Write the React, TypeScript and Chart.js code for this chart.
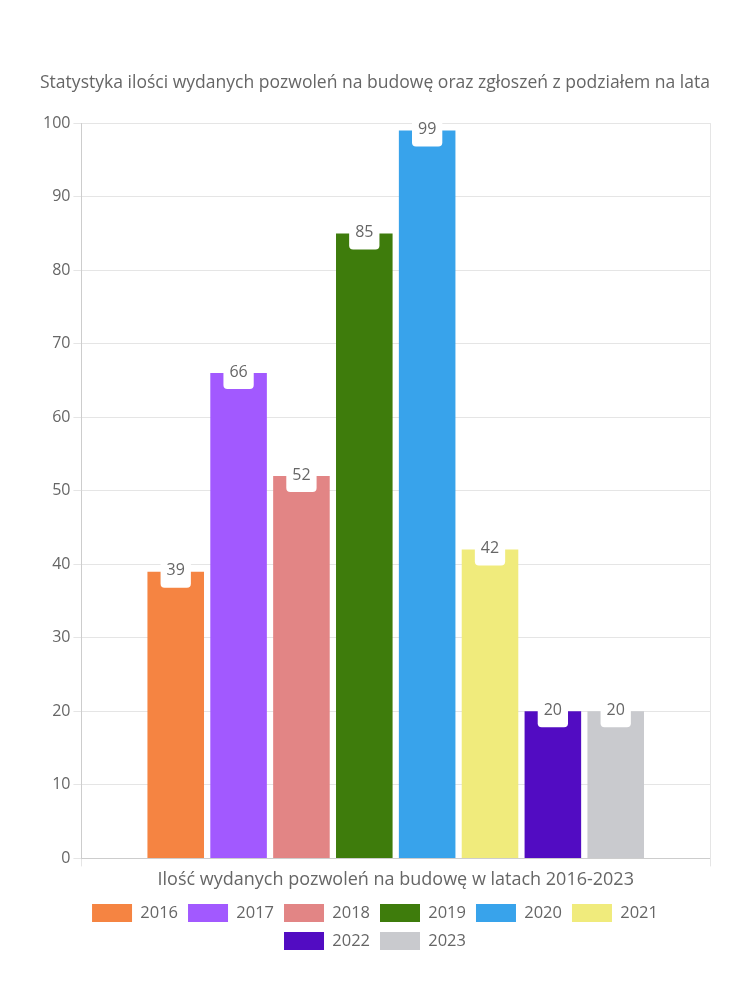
import React, { useEffect, useRef } from "react";
import { Chart, registerables } from "chart.js";

Chart.register(...registerables);

const categories = ["Ilość wydanych pozwoleń na budowę w latach 2016-2023"];
const years = ["2016", "2017", "2018", "2019", "2020", "2021", "2022", "2023"];
const values = [39, 66, 52, 85, 99, 42, 20, 20];
const colors = ["#F58442", "#A259FF", "#E28585", "#3E7C0C", "#38A3EB", "#F0EB7C", "#520CC2", "#C9CACE"];
const titleText = "Statystyka ilości wydanych pozwoleń na budowę oraz zgłoszeń z podziałem na lata";

const FONT = "'Open Sans'";
const GREY = "#666";

const labelPlugin = {
  id: "barLabels",
  afterDatasetsDraw(chart: any) {
    const ctx = chart.ctx;
    ctx.save();
    ctx.font = `16px ${FONT}`;
    ctx.textAlign = "center";
    ctx.textBaseline = "middle";
    chart.data.datasets.forEach((ds: any, i: number) => {
      const meta = chart.getDatasetMeta(i);
      meta.data.forEach((el: any, j: number) => {
        const v = ds.data[j];
        const text = String(v);
        const w = ctx.measureText(text).width + 12;
        const h = 32;
        ctx.fillStyle = "#fff";
        ctx.beginPath();
        ctx.roundRect(el.x - w / 2, el.y - h / 2, w, h, 4);
        ctx.fill();
        ctx.fillStyle = GREY;
        ctx.fillText(text, el.x, el.y - 1);
      });
    });
    ctx.restore();
  },
};

export default function App() {
  const ref = useRef<HTMLCanvasElement>(null);
  useEffect(() => {
    const chart = new Chart(ref.current!, {
      type: "bar",
      data: {
        labels: categories,
        datasets: years.map((y, i) => ({
          label: y,
          data: [values[i]],
          backgroundColor: colors[i],
          borderColor: colors[i],
          borderWidth: 0,
        })),
      },
      options: {
        animation: false,
        responsive: true,
        maintainAspectRatio: false,
        layout: { padding: { left: 32, right: 32, top: 54, bottom: 32 } },
        plugins: {
          title: {
            display: true,
            text: titleText,
            color: GREY,
            font: { family: FONT, size: 17.6, weight: "normal" },
            padding: { top: 10, bottom: 30 },
          },
          legend: {
            position: "bottom",
            labels: {
              color: GREY,
              font: { family: FONT, size: 16.5 },
              boxWidth: 40,
              boxHeight: 18,
            },
          },
          tooltip: { enabled: false },
        },
        scales: {
          x: {
            ticks: { color: GREY, font: { family: FONT, size: 18 } },
            grid: { color: "#e5e5e5" },
          },
          y: {
            min: 0,
            max: 100,
            ticks: { stepSize: 10, color: GREY, font: { family: FONT, size: 16 } },
            grid: { color: "#e5e5e5" },
          },
        },
      },
      plugins: [labelPlugin],
    });
    return () => chart.destroy();
  }, []);
  return (
    <div style={{ width: 734, height: 984 }}>
      <canvas ref={ref} />
    </div>
  );
}
